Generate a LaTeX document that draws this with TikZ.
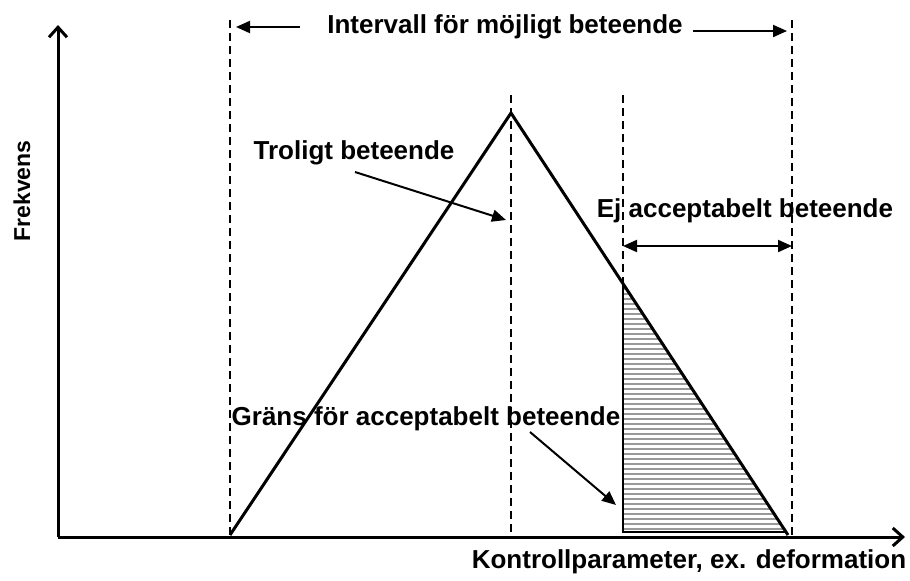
\documentclass[tikz,border=0pt]{standalone}
\usepackage{fontspec}
\setmainfont{Liberation Sans}
\usetikzlibrary{arrows.meta,positioning}

\begin{document}
\begin{tikzpicture}[
  x=0.5pt, y=-0.5pt,
  axel/.style={line width=1.5pt, -{Straight Barb[length=5pt,width=9pt]}},
  kant/.style={line width=1.5pt, line join=miter},
  streck/.style={line width=1pt, dash pattern=on 4pt off 2.5pt},
  pil/.style={line width=1pt, -{Triangle[length=7pt,width=6pt]}},
  dubbelpil/.style={line width=1pt, {Triangle[length=7pt,width=6pt]}-{Triangle[length=7pt,width=6pt]}},
  txt/.style={font=\fontsize{13}{15}\selectfont\bfseries, inner sep=0pt}
]
  \useasboundingbox (0,0) rectangle (910,580);

  % punkter
  \coordinate (O) at (58,537);
  \coordinate (ytop) at (58,25);
  \coordinate (xend) at (905,537);
  \coordinate (L) at (230,535);
  \coordinate (A) at (511,113);
  \coordinate (R) at (788,535);
  \coordinate (G) at (623,284);
  \coordinate (Gb) at (623,532);
  \coordinate (Rb) at (786,532);

  % skrafferat omraade
  \begin{scope}
    \clip (G) -- (Gb) -- (Rb) -- cycle;
    \foreach \y in {289,294,...,529}
      \draw[gray!80, line width=0.6pt] (620,\y) -- (800,\y);
  \end{scope}
  \draw[line width=0.6pt] (G) -- (Gb) -- (Rb);

  % streckade linjer
  \draw[streck] (230,20) -- (L);
  \draw[streck] (511,95) -- (511,535);
  \draw[streck] (623,95) -- (623,535);
  \draw[streck] (792,20) -- (792,535);

  % axlar
  \draw[axel] (O) -- (ytop);
  \draw[axel] (O) -- (xend);

  % triangel
  \draw[kant] (L) -- (A) -- (R);

  % texter
  \node[txt] (intervall) at (505,27) {Intervall för möjligt beteende};
  \node[txt] (trolig) at (354,153) {Troligt beteende};
  \node[txt] (ej) at (745,211) {Ej acceptabelt beteende};
  \node[txt] (grans) at (426,419) {Gräns för acceptabelt beteende};
  \node[txt] (kontroll) at (689,562) {Kontrollparameter, ex. deformation};
  \node[txt, font=\fontsize{11.5}{13}\selectfont\bfseries, rotate=90] (frekvens) at (22,191) {Frekvens};

  % pilar
  \coordinate (vstart) at (300,27);
  \coordinate (vslut) at (236,27);
  \coordinate (hstart) at (693,31);
  \coordinate (hslut) at (787,31);
  \draw[pil] (vstart) -- (vslut);
  \draw[pil] (hstart) -- (hslut);
  \coordinate (tstart) at (355,172);
  \coordinate (tslut) at (506,220);
  \draw[pil] (tstart) -- (tslut);
  \coordinate (gstart) at (530,432);
  \coordinate (gslut) at (616,505);
  \draw[pil] (gstart) -- (gslut);
  \coordinate (e1) at (623,246);
  \coordinate (e2) at (792,246);
  \draw[dubbelpil] (e1) -- (e2);
\end{tikzpicture}
\end{document}
